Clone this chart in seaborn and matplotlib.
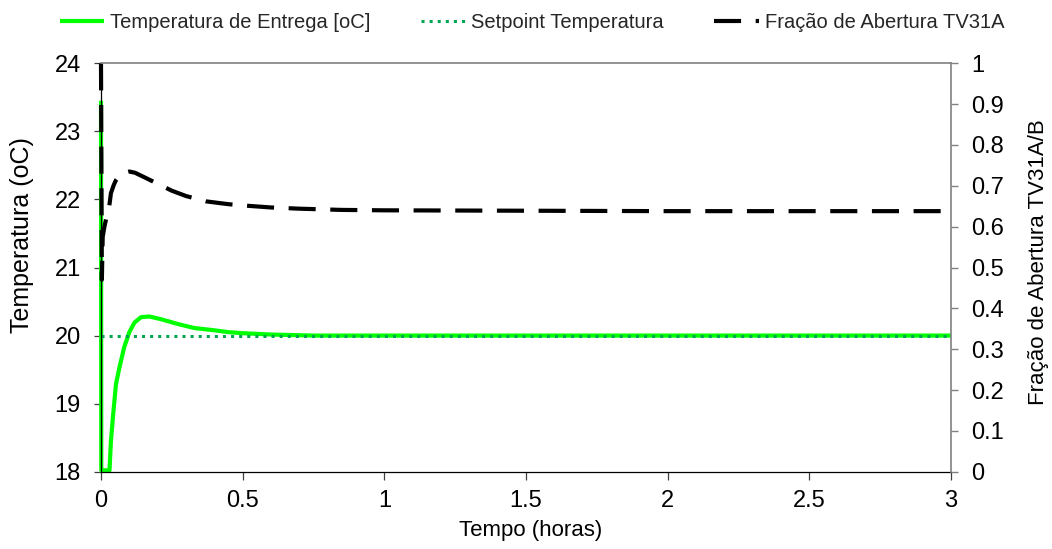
import matplotlib
matplotlib.use("Agg")
import matplotlib.pyplot as plt
import seaborn as sns
import pandas as pd

# ---------------- data ----------------
temp_time = [0.0, 0.001, 0.03, 0.035, 0.044, 0.053, 0.065, 0.082, 0.1, 0.118, 0.141,
             0.171, 0.212, 0.271, 0.33, 0.395, 0.45, 0.5, 0.6, 0.75, 1.0, 1.5, 2.0, 2.5, 3.0]
temp_values = [23.45, 18.02, 18.02, 18.45, 18.89, 19.29, 19.53, 19.83, 20.05, 20.19, 20.27,
               20.28, 20.24, 20.17, 20.11, 20.08, 20.05, 20.035, 20.015, 20.0, 20.0, 20.0,
               20.0, 20.0, 20.0]

setpoint_time = [0.0, 3.0]
setpoint_values = [20.0, 20.0]

frac_time = [0.0, 0.003, 0.006, 0.012, 0.02, 0.029, 0.035, 0.045, 0.053, 0.065, 0.077, 0.1,
             0.12, 0.15, 0.2, 0.25, 0.3, 0.37, 0.45, 0.5, 0.6, 0.7, 0.85, 1.0, 1.5, 2.0, 2.5, 3.0]
frac_values = [1.0, 0.47, 0.575, 0.60, 0.625, 0.649, 0.682, 0.702, 0.714, 0.725, 0.731, 0.735,
               0.732, 0.722, 0.705, 0.688, 0.675, 0.662, 0.655, 0.652, 0.647, 0.644, 0.641, 0.64,
               0.639, 0.638, 0.638, 0.638]

x_ticks = [0, 0.5, 1, 1.5, 2, 2.5, 3]
x_tick_labels = ["0", "0.5", "1", "1.5", "2", "2.5", "3"]
left_ticks = [18, 19, 20, 21, 22, 23, 24]
right_ticks = [0, 0.1, 0.2, 0.3, 0.4, 0.5, 0.6, 0.7, 0.8, 0.9, 1.0]
right_tick_labels = ["0", "0.1", "0.2", "0.3", "0.4", "0.5", "0.6", "0.7", "0.8", "0.9", "1"]

label_temp = "Temperatura de Entrega [oC]"
label_setpoint = "Setpoint Temperatura"
label_frac = "Fração de Abertura TV31A"

# ---------------- style ----------------
sns.set_theme(style="white")
plt.rcParams["font.family"] = ["Liberation Sans", "DejaVu Sans"]

fig = plt.figure(figsize=(10.52, 5.49), dpi=100)
W, H = 1052, 549
ax = fig.add_axes([101 / W, 77.3 / H, 850 / W, 408.4 / H])
ax2 = ax.twinx()

df_t = pd.DataFrame({"t": temp_time, "v": temp_values})
df_s = pd.DataFrame({"t": setpoint_time, "v": setpoint_values})
df_f = pd.DataFrame({"t": frac_time, "v": frac_values})

sns.lineplot(data=df_t, x="t", y="v", ax=ax, color="#00FF00", lw=3.0,
             estimator=None, sort=False, label=label_temp, clip_on=False,
             solid_capstyle="butt", solid_joinstyle="round")
sns.lineplot(data=df_s, x="t", y="v", ax=ax, color="#00A651", lw=2.2,
             linestyle=(0, (1, 1.65)), dash_capstyle="butt",
             estimator=None, sort=False, label=label_setpoint)
sns.lineplot(data=df_f, x="t", y="v", ax=ax2, color="black", lw=3.0,
             linestyle=(0, (6.5, 3.5)), estimator=None, sort=False, label=label_frac,
             clip_on=False, dash_joinstyle="round")

for a in (ax, ax2):
    lg = a.get_legend()
    if lg is not None:
        lg.remove()

ax.set_xlim(0, 3)
ax.set_ylim(18, 24)
ax2.set_ylim(0, 1)
ax.set_xticks(x_ticks)
ax.set_xticklabels(x_tick_labels)
ax.set_yticks(left_ticks)
ax.set_yticklabels([str(v) for v in left_ticks])
ax2.set_yticks(right_ticks)
ax2.set_yticklabels(right_tick_labels)

# spines
for s in ("top", "right"):
    ax.spines[s].set_visible(False)
for s in ("left", "bottom"):
    ax2.spines[s].set_visible(False)
ax.spines["left"].set_color("black")
ax.spines["bottom"].set_color("black")
ax.spines["left"].set_linewidth(0.9)
ax.spines["bottom"].set_linewidth(0.9)
ax2.spines["top"].set_visible(True)
ax2.spines["top"].set_color("#808080")
ax2.spines["right"].set_color("#808080")
ax2.spines["top"].set_linewidth(1.2)
ax2.spines["right"].set_linewidth(1.2)

ax.tick_params(axis="x", direction="out", length=6, width=0.9, color="#404040",
               labelsize=17, pad=7, bottom=True, labelcolor="black")
ax.tick_params(axis="y", direction="out", length=5, width=0.9, color="#404040",
               labelsize=17, pad=9.5, left=True, labelcolor="black")
ax2.tick_params(axis="y", direction="out", length=5, width=1.0, color="#808080",
                labelsize=17, pad=9.5, right=True, labelcolor="black")

# axis labels
ax.set_xlabel("Tempo (horas)", fontsize=16, color="black")
ax.xaxis.set_label_coords(0.505, -0.143)
ax.xaxis.label.set_va("center")
ax.set_ylabel("Temperatura (oC)", fontsize=18, color="black")
ax.yaxis.set_label_coords(-0.093, 0.58)
ax.yaxis.label.set_va("center")
ax2.set_ylabel("Fração de Abertura TV31A/B", fontsize=16, color="black", rotation=90)
ax2.yaxis.set_label_coords(1.1035, 0.513)
ax2.yaxis.label.set_va("center")
ax2.yaxis.label.set_ha("center")

# legend
h1, l1 = ax.get_legend_handles_labels()
h2, l2 = ax2.get_legend_handles_labels()
fig.legend(h1 + h2, l1 + l2, loc="center", bbox_to_anchor=(532 / W, 1 - 23 / H),
           ncol=3, frameon=False, fontsize=14.5, handlelength=2.2, handletextpad=0.3,
           columnspacing=2.5, borderpad=0, borderaxespad=0)

fig.savefig("out.png", dpi=100)
